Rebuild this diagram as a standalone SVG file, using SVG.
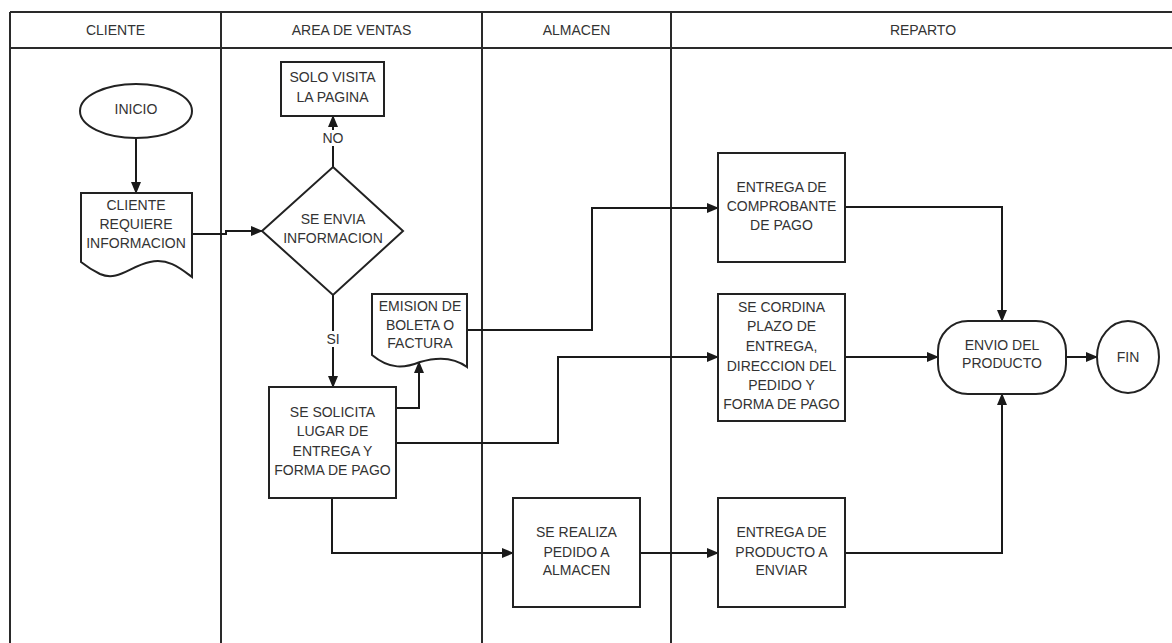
<svg xmlns="http://www.w3.org/2000/svg" width="1172" height="643" viewBox="0 0 1172 643">
<style>
  .lane { stroke: #2a2a2a; stroke-width: 2; fill: none; }
  .shape { fill: #ffffff; stroke: #222222; stroke-width: 2; }
  .conn { fill: none; stroke: #1a1a1a; stroke-width: 2; marker-end: url(#ah); }
  .plain { fill: none; stroke: #1a1a1a; stroke-width: 2; }
  text { font-family: "Liberation Sans", Arial, sans-serif; font-size: 14px; fill: #333333; text-anchor: middle; }
</style>
<defs>
  <marker id="ah" viewBox="0 0 12 10" refX="11" refY="5" markerWidth="12" markerHeight="10" orient="auto" markerUnits="userSpaceOnUse">
    <path d="M0,0 L12,5 L0,10 z" fill="#1a1a1a"/>
  </marker>
</defs>
<rect x="0" y="0" width="1172" height="643" fill="#ffffff"/>

<g id="lanes">
  <line class="lane" x1="10" y1="12" x2="1172" y2="12"/>
  <line class="lane" x1="10" y1="48" x2="1172" y2="48"/>
  <line class="lane" x1="10" y1="12" x2="10" y2="643"/>
  <line class="lane" x1="221" y1="12" x2="221" y2="643"/>
  <line class="lane" x1="482" y1="12" x2="482" y2="643"/>
  <line class="lane" x1="671" y1="12" x2="671" y2="643"/>
  <text x="115.5" y="35">CLIENTE</text>
  <text x="351.5" y="35">AREA DE VENTAS</text>
  <text x="576.5" y="35">ALMACEN</text>
  <text x="923" y="35">REPARTO</text>
</g>

<g id="connectors">
  <path class="conn" d="M136,138 V193"/>
  <path class="conn" d="M192,234 H226 V231 H262"/>
  <path class="conn" d="M333,167 V116"/>
  <rect x="321" y="130" width="24" height="16" fill="#ffffff"/>
  <text x="333" y="143">NO</text>
  <path class="conn" d="M333,295 V387"/>
  <rect x="325" y="331" width="16" height="16" fill="#ffffff"/>
  <text x="333" y="344">SI</text>
  <path class="conn" d="M396,408 H419 V362"/>
  <path class="conn" d="M467,330 H592 V208 H718"/>
  <path class="conn" d="M396,443 H558 V357 H718"/>
  <path class="conn" d="M332,498 V553 H513"/>
  <path class="conn" d="M640,553 H718"/>
  <path class="conn" d="M845,207 H1002 V321"/>
  <path class="conn" d="M845,357 H938"/>
  <path class="conn" d="M845,553 H1002 V394"/>
  <path class="conn" d="M1066,357 H1097"/>
</g>

<g id="inicio">
  <ellipse class="shape" cx="136" cy="111" rx="56" ry="27"/>
  <text x="136" y="114">INICIO</text>
</g>

<g id="cliente-requiere">
  <path class="shape" d="M81,193 H192 V277 C180,268 168,258 150,262 C130,266 118,282 100,274 C92,270 86,266 81,262 Z"/>
  <text x="136" y="210">CLIENTE</text>
  <text x="136" y="229">REQUIERE</text>
  <text x="136" y="248">INFORMACION</text>
</g>

<g id="se-envia">
  <polygon class="shape" points="333,167 403,231 333,295 262,231"/>
  <text x="333" y="224">SE ENVIA</text>
  <text x="333" y="243">INFORMACION</text>
</g>

<g id="solo-visita">
  <rect class="shape" x="281" y="62" width="103" height="54"/>
  <text x="332.5" y="82">SOLO VISITA</text>
  <text x="332.5" y="102">LA PAGINA</text>
</g>

<g id="se-solicita">
  <rect class="shape" x="269" y="387" width="127" height="111"/>
  <text x="332.5" y="417">SE SOLICITA</text>
  <text x="332.5" y="436">LUGAR DE</text>
  <text x="332.5" y="456">ENTREGA Y</text>
  <text x="332.5" y="475">FORMA DE PAGO</text>
</g>

<g id="emision">
  <path class="shape" d="M372,294 H467 V367 C455,358 440,356 420,362 C405,368 390,370 372,355 Z"/>
  <text x="420" y="311">EMISION DE</text>
  <text x="420" y="330">BOLETA O</text>
  <text x="420" y="348">FACTURA</text>
</g>

<g id="comprobante">
  <rect class="shape" x="718" y="153" width="127" height="109"/>
  <text x="781.5" y="192">ENTREGA DE</text>
  <text x="781.5" y="211">COMPROBANTE</text>
  <text x="781.5" y="230">DE PAGO</text>
</g>

<g id="se-cordina">
  <rect class="shape" x="718" y="294" width="127" height="127"/>
  <text x="781.5" y="312">SE CORDINA</text>
  <text x="781.5" y="331">PLAZO DE</text>
  <text x="781.5" y="351">ENTREGA,</text>
  <text x="781.5" y="371">DIRECCION DEL</text>
  <text x="781.5" y="390">PEDIDO Y</text>
  <text x="781.5" y="409">FORMA DE PAGO</text>
</g>

<g id="se-realiza">
  <rect class="shape" x="513" y="498" width="127" height="109"/>
  <text x="576.5" y="537">SE REALIZA</text>
  <text x="576.5" y="557">PEDIDO A</text>
  <text x="576.5" y="575">ALMACEN</text>
</g>

<g id="entrega-producto">
  <rect class="shape" x="718" y="498" width="127" height="109"/>
  <text x="781.5" y="537">ENTREGA DE</text>
  <text x="781.5" y="557">PRODUCTO A</text>
  <text x="781.5" y="575">ENVIAR</text>
</g>

<g id="envio">
  <rect class="shape" x="938" y="321" width="128" height="73" rx="30" ry="30"/>
  <text x="1002" y="350">ENVIO DEL</text>
  <text x="1002" y="368">PRODUCTO</text>
</g>

<g id="fin">
  <ellipse class="shape" cx="1128" cy="357" rx="31" ry="36"/>
  <text x="1128" y="362">FIN</text>
</g>
</svg>
